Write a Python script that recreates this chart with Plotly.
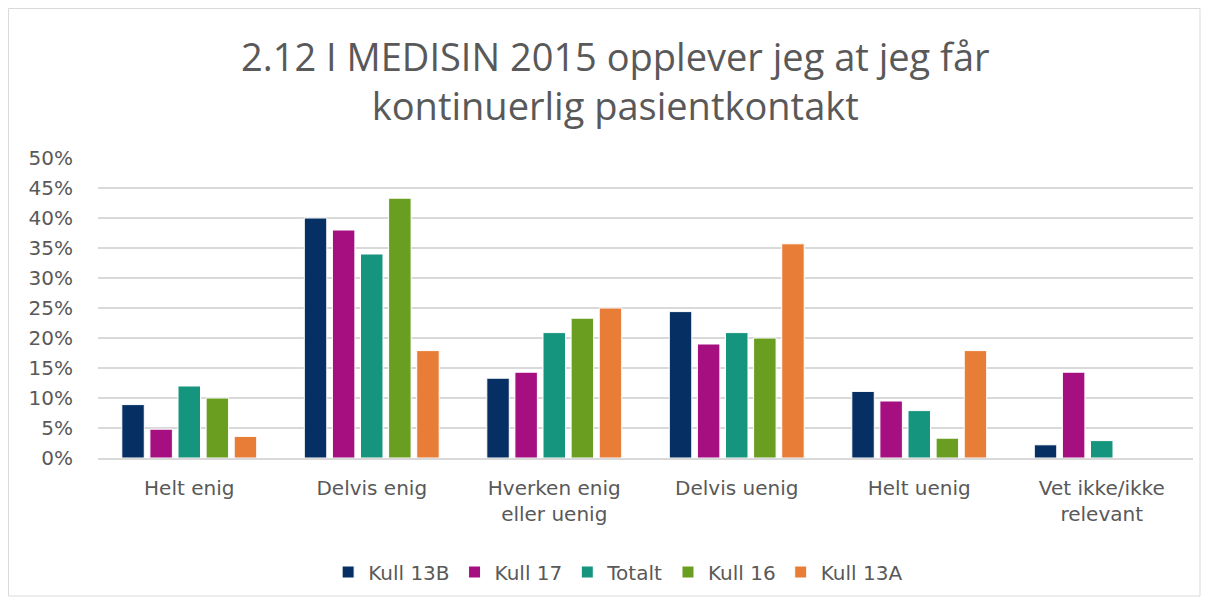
import plotly.graph_objects as go

categories = ["Helt enig", "Delvis enig", "Hverken enig<br>eller uenig", "Delvis uenig",
              "Helt uenig", "Vet ikke/ikke<br>relevant"]
kull_13b = [8.9, 40.0, 13.3, 24.4, 11.1, 2.2]
kull_17 = [4.8, 38.0, 14.3, 19.0, 9.5, 14.3]
totalt = [12.0, 34.0, 20.9, 20.9, 7.9, 2.9]
kull_16 = [10.0, 43.3, 23.3, 20.0, 3.3, 0.0]
kull_13a = [3.6, 17.9, 25.0, 35.7, 17.9, 0.0]

series = [
    ("Kull 13B", kull_13b, "#063064"),
    ("Kull 17", kull_17, "#A50F80"),
    ("Totalt", totalt, "#15957D"),
    ("Kull 16", kull_16, "#6A9E20"),
    ("Kull 13A", kull_13a, "#E87D38"),
]

fig = go.Figure()
for name, vals, color in series:
    fig.add_trace(go.Bar(
        x=categories, y=vals, name=name,
        marker=dict(color=color, line=dict(color="white", width=1)),
    ))

font = "'DejaVu Sans', sans-serif"
# the page puts the figure 8px in from the top-left corner
fig.update_layout(
    width=1193, height=589,
    margin=dict(l=90, r=8, t=150, b=139, autoexpand=False),
    paper_bgcolor="white", plot_bgcolor="white",
    barmode="group", bargap=0.23, bargroupgap=0.2,
    showlegend=True,
    legend=dict(orientation="h", x=0.475, xanchor="center", y=-0.315, yanchor="top",
                font=dict(family=font, size=20, color="#595959"),
                itemwidth=30, traceorder="normal"),
    font=dict(family=font, color="#595959"),
    annotations=[dict(
        text="2.12 I MEDISIN 2015 opplever jeg at jeg får<br>kontinuerlig pasientkontakt",
        xref="paper", yref="paper", x=0.4726, y=1.26, xanchor="center", yanchor="middle",
        showarrow=False,
        font=dict(family="'Open Sans', sans-serif", size=38, color="#595959"))],
    shapes=[dict(type="rect", xref="paper", yref="paper",
                 x0=-0.0817, x1=1.0064, y0=-0.46, y1=1.4983,
                 line=dict(color="#d9d9d9", width=1), fillcolor="rgba(0,0,0,0)")],
)
fig.update_yaxes(range=[0, 50], dtick=5, ticksuffix="%", showgrid=True,
                 gridcolor="#d9d9d9", gridwidth=1.5, zeroline=False, automargin=False,
                 tickfont=dict(size=20, color="#595959"), ticks="", showline=False,
                 ticklabelstandoff=24)
fig.update_xaxes(showline=True, linecolor="#d9d9d9", linewidth=1.5, automargin=False,
                 tickfont=dict(size=20, color="#595959"), ticks="",
                 ticklabelstandoff=11)

fig.write_html("out.html")
